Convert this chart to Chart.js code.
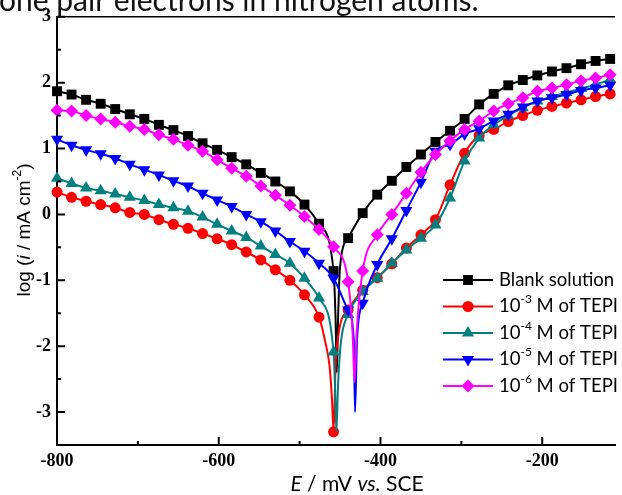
<!DOCTYPE html>
<html>
<head>
<meta charset="utf-8">
<script src="https://cdn.jsdelivr.net/npm/chart.js@4/dist/chart.umd.min.js"></script>
<style>
  body { margin: 0; background: #fff; }
  #wrap { width: 622px; height: 495px; position: relative; }
</style>
</head>
<body>
<div id="wrap"><canvas id="tafel"></canvas></div>
<script>
// potentials (mV vs. SCE) where the symbols are plotted
var potentials = [-800, -782, -764, -746, -728, -710, -692, -674, -656, -638,
  -620, -602, -584, -566, -548, -530, -512, -494, -476, -458,
  -440, -422, -404, -386, -368, -350, -332, -314, -296, -278,
  -260, -242, -224, -206, -188, -170, -152, -134, -116];

var xTicks = [-800, -600, -400, -200];
var xMinor = [-700, -500, -300];
var yTicks = [-3, -2, -1, 0, 1, 2, 3];
var yMinor = [-2.5, -1.5, -0.5, 0.5, 1.5, 2.5];

// log i at each potential above
var blankLog = [1.87, 1.82, 1.74, 1.68, 1.60, 1.52, 1.45, 1.36, 1.28, 1.19,
  1.08, 0.98, 0.87, 0.76, 0.63, 0.50, 0.35, 0.15, -0.14, -0.86,
  -0.36, 0.02, 0.30, 0.51, 0.72, 0.91, 1.10, 1.27, 1.45, 1.67,
  1.83, 1.96, 2.04, 2.11, 2.17, 2.22, 2.28, 2.33, 2.36];
var tepi3Log = [0.34, 0.26, 0.20, 0.15, 0.10, 0.03, 0.00, -0.08, -0.15, -0.21,
  -0.29, -0.37, -0.46, -0.57, -0.69, -0.84, -1.00, -1.22, -1.56, -3.30,
  -1.45, -1.15, -0.96, -0.75, -0.51, -0.31, -0.08, 0.45, 0.93, 1.20,
  1.29, 1.41, 1.50, 1.58, 1.64, 1.69, 1.74, 1.79, 1.83];
var tepi4Log = [0.55, 0.47, 0.40, 0.36, 0.31, 0.26, 0.21, 0.15, 0.10, 0.05,
  -0.04, -0.15, -0.25, -0.35, -0.48, -0.61, -0.74, -0.97, -1.27, -2.09,
  -1.52, -1.17, -0.97, -0.74, -0.54, -0.36, -0.16, 0.25, 0.81, 1.16,
  1.36, 1.50, 1.62, 1.72, 1.79, 1.85, 1.91, 1.97, 2.05];
var tepi5Log = [1.14, 1.05, 0.98, 0.92, 0.85, 0.76, 0.68, 0.60, 0.51, 0.43,
  0.32, 0.22, 0.12, 0.00, -0.11, -0.25, -0.41, -0.56, -0.74, -0.97,
  -1.45, -1.35, -0.76, -0.37, 0.06, 0.49, 0.96, 1.06, 1.22, 1.30,
  1.42, 1.52, 1.63, 1.72, 1.77, 1.82, 1.88, 1.92, 1.96];
var tepi6Log = [1.58, 1.57, 1.50, 1.45, 1.40, 1.34, 1.29, 1.21, 1.14, 1.05,
  0.96, 0.83, 0.70, 0.58, 0.43, 0.29, 0.14, -0.03, -0.23, -0.49,
  -1.02, -0.86, -0.31, 0.00, 0.32, 0.64, 0.91, 1.12, 1.29, 1.42,
  1.57, 1.68, 1.77, 1.87, 1.92, 1.97, 2.03, 2.07, 2.12];

// extra line-only points around each corrosion potential [E, log i]
var blankDip = [[-455.5, -1.6], [-454, -2.4], [-452.5, -1.6], [-450, -0.8]];
var tepi3Dip = [[-468, -1.95], [-463, -2.3], [-460, -2.8], [-455.5, -2.3], [-451, -1.75]];
var tepi4Dip = [[-456, -2.7], [-454.5, -3.3], [-452.5, -2.6], [-449, -1.95]];
var tepi5Dip = [[-433, -1.9], [-431.5, -3.0], [-429, -1.9]];
var tepi6Dip = [[-434.5, -1.8], [-432, -2.55], [-429.5, -1.8]];

var caption = "lone pair electrons in nitrogen atoms.";

var series = [
  { name: "Blank solution", legend: [["Blank solution", 0]], log: blankLog, dip: blankDip,
    color: "#000000", style: "rect", radius: 7, rotation: 0 },
  { name: "10-3 M of TEPI", legend: [["10", 0], ["-3", 1], [" M of TEPI", 0]], log: tepi3Log, dip: tepi3Dip,
    color: "#ff0000", style: "circle", radius: 5.5, rotation: 0 },
  { name: "10-4 M of TEPI", legend: [["10", 0], ["-4", 1], [" M of TEPI", 0]], log: tepi4Log, dip: tepi4Dip,
    color: "#008080", style: "triangle", radius: 7, rotation: 0 },
  { name: "10-5 M of TEPI", legend: [["10", 0], ["-5", 1], [" M of TEPI", 0]], log: tepi5Log, dip: tepi5Dip,
    color: "#0000ff", style: "triangle", radius: 7, rotation: 180 },
  { name: "10-6 M of TEPI", legend: [["10", 0], ["-6", 1], [" M of TEPI", 0]], log: tepi6Log, dip: tepi6Dip,
    color: "#ff00ff", style: "rectRot", radius: 6.5, rotation: 0 }
];

function buildPoints(s) {
  var pts = potentials.map(function (e, i) { return { x: e, y: s.log[i], m: true }; });
  s.dip.forEach(function (d) { pts.push({ x: d[0], y: d[1], m: false }); });
  return pts.sort(function (a, b) { return a.x - b.x; });
}

var datasets = series.map(function (s, i) {
  return {
    label: s.name,
    data: buildPoints(s),
    showLine: true,
    borderColor: s.color,
    backgroundColor: s.color,
    borderWidth: 2,
    cubicInterpolationMode: "monotone",
    pointStyle: s.style,
    pointRotation: s.rotation,
    pointRadius: function (c) { return c.raw && c.raw.m ? s.radius : 0; },
    pointBorderWidth: 0,
    pointHoverRadius: 0,
    clip: false,
    order: series.length - i
  };
});

function drawRuns(ctx, runs, x, y) {
  runs.forEach(function (r) {
    ctx.font = r.font;
    ctx.fillText(r.t, x, y + (r.dy || 0));
    x += ctx.measureText(r.t).width;
  });
}
function runsWidth(ctx, runs) {
  var w = 0;
  runs.forEach(function (r) { ctx.font = r.font; w += ctx.measureText(r.t).width; });
  return w;
}

// inward ticks, top frame line, axis titles, legend and caption
var decorations = {
  id: "decorations",
  afterDraw: function (chart) {
    var ctx = chart.ctx, a = chart.chartArea, xs = chart.scales.x, ys = chart.scales.y;
    ctx.save();
    ctx.strokeStyle = "#000";
    ctx.lineWidth = 1.5;
    ctx.beginPath();
    ctx.moveTo(a.left, a.top);
    ctx.lineTo(a.right, a.top);
    ctx.stroke();

    ctx.lineWidth = 2;
    ctx.beginPath();
    yTicks.forEach(function (v) { var p = ys.getPixelForValue(v); ctx.moveTo(a.left, p); ctx.lineTo(a.left + 8, p); });
    yMinor.forEach(function (v) { var p = ys.getPixelForValue(v); ctx.moveTo(a.left, p); ctx.lineTo(a.left + 4, p); });
    xTicks.forEach(function (v) { var p = xs.getPixelForValue(v); ctx.moveTo(p, a.bottom); ctx.lineTo(p, a.bottom - 8); });
    xMinor.forEach(function (v) { var p = xs.getPixelForValue(v); ctx.moveTo(p, a.bottom); ctx.lineTo(p, a.bottom - 4); });
    ctx.stroke();

    ctx.fillStyle = "#000";
    ctx.textBaseline = "middle";

    // x title
    var xt = [
      { t: "E", font: "italic 21px Lato" },
      { t: " / mV ", font: "21px Lato" },
      { t: "vs.", font: "italic 21px Lato" },
      { t: " SCE", font: "21px Lato" }
    ];
    drawRuns(ctx, xt, 357 - runsWidth(ctx, xt) / 2, 484);

    // y title
    var yt = [
      { t: "log (", font: "19px 'Liberation Sans'" },
      { t: "i", font: "italic 19px 'Liberation Sans'" },
      { t: " / mA cm", font: "19px 'Liberation Sans'" },
      { t: "-2", font: "12px 'Liberation Sans'", dy: -7 },
      { t: ")", font: "19px 'Liberation Sans'" }
    ];
    ctx.save();
    ctx.translate(25, 230);
    ctx.rotate(-Math.PI / 2);
    drawRuns(ctx, yt, -runsWidth(ctx, yt) / 2, 0);
    ctx.restore();

    // legend
    series.forEach(function (s, i) {
      var y = 280 + i * 26.5;
      ctx.strokeStyle = s.color;
      ctx.fillStyle = s.color;
      ctx.lineWidth = 2;
      ctx.beginPath();
      ctx.moveTo(443, y);
      ctx.lineTo(493, y);
      ctx.stroke();
      Chart.helpers.drawPoint(ctx, { pointStyle: s.style, radius: s.radius, rotation: s.rotation, borderWidth: 0 }, 468, y);
      ctx.fillStyle = "#000";
      var runs = s.legend.map(function (p) {
        return p[1] ? { t: p[0], font: "12px Lato", dy: -7 } : { t: p[0], font: "18.5px Lato" };
      });
      drawRuns(ctx, runs, 499, y);
    });

    // caption line of the surrounding page
    ctx.font = "30px Lato";
    ctx.textBaseline = "alphabetic";
    ctx.fillStyle = "#111";
    ctx.fillText(caption, -ctx.measureText("l").width - 1, 11);
    ctx.restore();
  }
};

var tickFont = { family: "'Liberation Serif'", size: 18, weight: "bold" };

new Chart(document.getElementById("tafel").getContext("2d"), {
  type: "scatter",
  data: { datasets: datasets },
  options: {
    responsive: true,
    maintainAspectRatio: false,
    animation: false,
    layout: { padding: { top: 16, right: 0, left: 0, bottom: 0 } },
    plugins: { legend: { display: false }, tooltip: { enabled: false } },
    scales: {
      x: {
        type: "linear",
        min: -800,
        max: -110,
        afterBuildTicks: function (s) { s.ticks = xTicks.map(function (v) { return { value: v }; }); },
        afterFit: function (s) { s.height = 50; },
        grid: { display: false, drawTicks: false, tickLength: 0 },
        border: { display: true, color: "#000", width: 2 },
        ticks: { font: tickFont, color: "#000", padding: 6, maxRotation: 0 }
      },
      y: {
        type: "linear",
        min: -3.5,
        max: 3,
        afterBuildTicks: function (s) { s.ticks = yTicks.map(function (v) { return { value: v }; }); },
        afterFit: function (s) { s.width = 57; },
        grid: { display: false, drawTicks: false, tickLength: 0 },
        border: { display: true, color: "#000", width: 2 },
        ticks: { font: tickFont, color: "#000", padding: 6 }
      }
    }
  },
  plugins: [decorations]
});
</script>
</body>
</html>
